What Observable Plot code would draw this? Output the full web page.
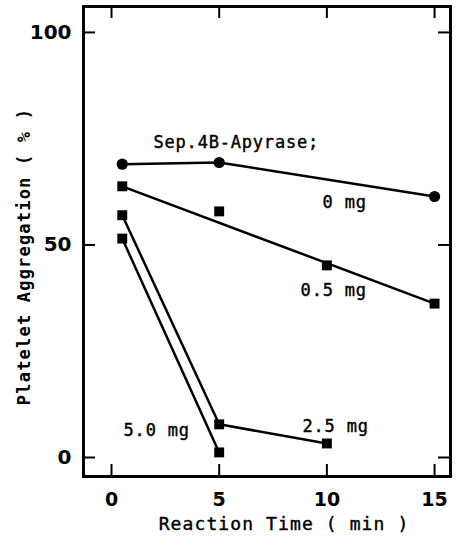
<!DOCTYPE html>
<html><head><meta charset="utf-8">
<script src="https://cdn.jsdelivr.net/npm/d3@7"></script>
<script src="https://cdn.jsdelivr.net/npm/@observablehq/plot@0.6"></script>
<style>body{margin:0;background:#fff;overflow:hidden}</style>
</head><body><div id="chart"></div>
<script>
// ---- data ----
const xTicks = [0, 5, 10, 15];
const yTicks = [0, 50, 100];
const xLabel = "Reaction Time ( min )";
const yLabel = "Platelet Aggregation ( % )";
const legendTitle = "Sep.4B-Apyrase;";
const seriesNames = ["0 mg", "0.5 mg", "2.5 mg", "5.0 mg"];

const time0 = [0.5, 5, 15];
const agg0 = [69.0, 69.4, 61.4];
const time05 = [0.5, 5, 10, 15];
const agg05 = [63.8, 57.9, 45.2, 36.2];
const time25 = [0.5, 5, 10];
const agg25 = [57.0, 7.8, 3.3];
const time50 = [0.5, 5];
const agg50 = [51.5, 1.2];
// the 0.5 mg line is a fitted straight line (the 5-min point lies off it)
const lineTime05 = [0.5, 15];
const lineAgg05 = [63.8, 36.2];

// ---- build tables ----
const pts = [];
const addPts = (name, ts, vs, sym) => ts.forEach((t, i) => pts.push({series: name, t, v: vs[i], sym}));
addPts(seriesNames[0], time0, agg0, "circle");
addPts(seriesNames[1], time05, agg05, "square");
addPts(seriesNames[2], time25, agg25, "square");
addPts(seriesNames[3], time50, agg50, "square");

const lines = [];
const addLine = (name, ts, vs) => ts.forEach((t, i) => lines.push({series: name, t, v: vs[i]}));
addLine(seriesNames[0], time0, agg0);
addLine(seriesNames[1], lineTime05, lineAgg05);
addLine(seriesNames[2], time25, agg25);
addLine(seriesNames[3], time50, agg50);

// annotation placement (layout)
const notes = [
  {text: legendTitle, t: 1.95, v: 74.1},
  {text: seriesNames[0], t: 9.8, v: 60.0},
  {text: seriesNames[1], t: 8.78, v: 39.3},
  {text: seriesNames[2], t: 8.87, v: 7.3},
  {text: seriesNames[3], t: 0.56, v: 6.35}
];

const W = 457, H = 541, mL = 83, mR = 7, mT = 6, mB = 65;
const fw = W - mL - mR, fh = H - mT - mB, tk = 12;
const mono = "DejaVu Sans Mono";
const numFont = "DejaVu Sans";

const chart = Plot.plot({
  width: W, height: H,
  marginLeft: mL, marginRight: mR, marginTop: mT, marginBottom: mB,
  x: {domain: [-1.3, 15.74]},
  y: {domain: [-4.47, 106.1]},
  style: {background: "#fff", color: "#000"},
  marks: [
    Plot.frame({stroke: "#000", strokeWidth: 3}),
    // inward ticks on all four sides
    Plot.tickX(xTicks, {x: d => d, insetTop: fh - tk, stroke: "#000", strokeWidth: 2}),
    Plot.tickX(xTicks, {x: d => d, insetBottom: fh - tk, stroke: "#000", strokeWidth: 2}),
    Plot.tickY(yTicks, {y: d => d, insetRight: fw - tk, stroke: "#000", strokeWidth: 2}),
    Plot.tickY(yTicks, {y: d => d, insetLeft: fw - tk, stroke: "#000", strokeWidth: 2}),
    Plot.axisX({ticks: xTicks, tickSize: 0, tickPadding: 16, tickFormat: d => d, label: null,
      fontSize: 19, fontWeight: "bold", fontFamily: numFont}),
    Plot.axisY({ticks: yTicks, tickSize: 0, tickPadding: 12, tickFormat: d => d, label: null,
      fontSize: 20, fontWeight: "bold", fontFamily: numFont}),
    Plot.line(lines, {x: "t", y: "v", z: "series", stroke: "#000", strokeWidth: 2.5}),
    Plot.dot(pts, {x: "t", y: "v", symbol: "sym", r: 5.6, fill: "#000", stroke: "none"}),
    Plot.text(notes, {x: "t", y: "v", text: "text", textAnchor: "start", fontFamily: mono,
      fontSize: 17, fill: "#000", stroke: "#000", strokeWidth: 0.4}),
    Plot.text([xLabel], {frameAnchor: "bottom", textAnchor: "middle", dy: 53, dx: 17, fontFamily: mono,
      fontSize: 18, fill: "#000", stroke: "#000", strokeWidth: 0.4}),
    Plot.text([yLabel], {frameAnchor: "left", textAnchor: "middle", rotate: -90, dx: -59, dy: 15,
      fontFamily: mono, fontSize: 17, fontWeight: "bold", fill: "#000"})
  ]
});
// letter spacing for the typewriter-like labels
const spacing = (str, px) => d3.select(chart).selectAll("text")
  .filter(function() { return this.textContent === str; }).attr("letter-spacing", px);
spacing(xLabel, "1.1px");
spacing(yLabel, "1.2px");
notes.forEach(n => spacing(n.text, "0.8px"));
document.getElementById("chart").appendChild(chart);
</script>
</body></html>
